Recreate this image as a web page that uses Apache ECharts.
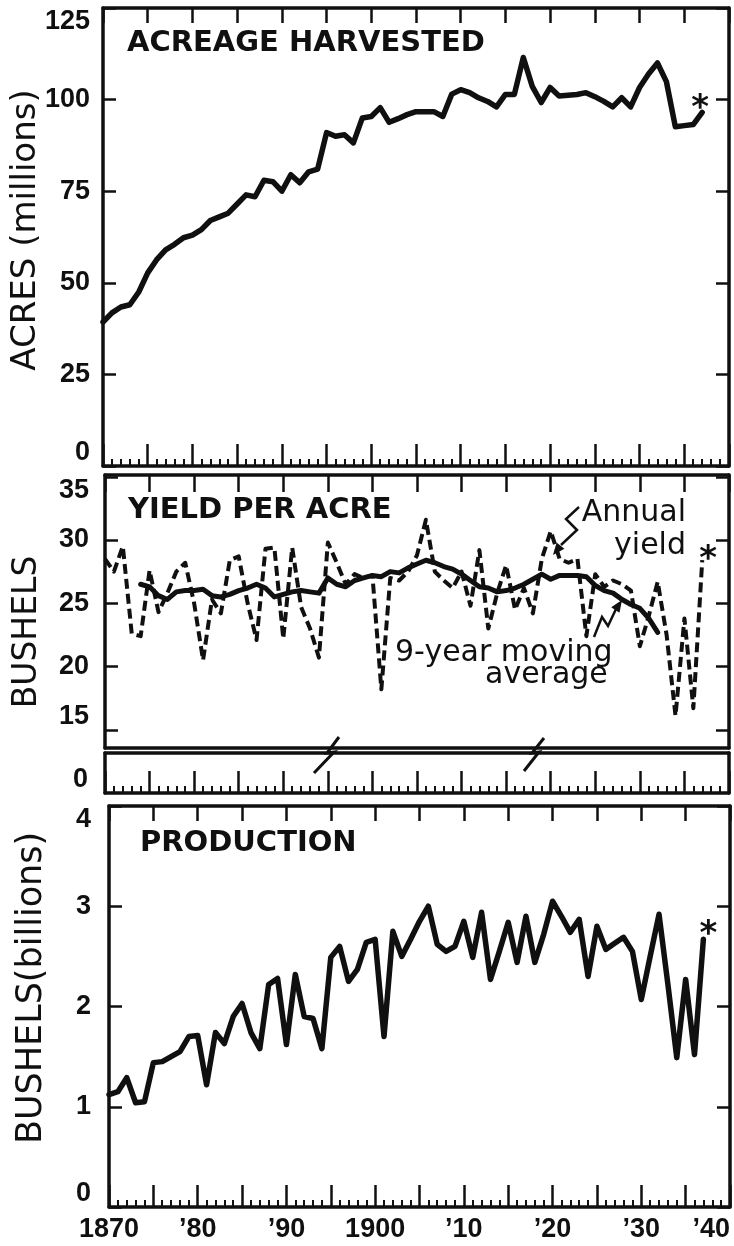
<!DOCTYPE html>
<html><head><meta charset="utf-8">
<script src="https://cdn.jsdelivr.net/npm/echarts@6/dist/echarts.min.js"></script>
<style>html,body{margin:0;padding:0;background:#fff}#c{width:734px;height:1246px}</style>
</head><body><div id="c"></div>
<script>
// ---------------- data ----------------
const years = [1870,1871,1872,1873,1874,1875,1876,1877,1878,1879,
  1880,1881,1882,1883,1884,1885,1886,1887,1888,1889,
  1890,1891,1892,1893,1894,1895,1896,1897,1898,1899,
  1900,1901,1902,1903,1904,1905,1906,1907,1908,1909,
  1910,1911,1912,1913,1914,1915,1916,1917,1918,1919,
  1920,1921,1922,1923,1924,1925,1926,1927,1928,1929,
  1930,1931,1932,1933,1934,1935,1936,1937];
// acreage harvested, millions of acres
const acreage = [39.3,41.8,43.4,44.0,47.5,52.7,56.3,59.0,60.5,62.3,
  63.0,64.5,67.0,68.0,69.0,71.5,74.0,73.5,78.0,77.6,
  75.0,79.5,77.3,80.3,81.0,91.0,90.0,90.4,88.2,95.0,
  95.4,97.8,93.8,94.8,95.9,96.7,96.7,96.7,95.4,101.5,
  102.7,101.9,100.5,99.5,98.0,101.4,101.4,111.5,103.6,99.2,
  103.3,101.0,101.2,101.4,101.9,100.8,99.5,98.0,100.5,98.0,
  103.3,107.0,110.0,104.9,92.6,92.9,93.2,96.5];
// annual yield, bushels per acre
const yieldAnnual = [28.5,27.5,29.5,22.6,22.4,27.6,24.3,25.8,27.5,28.2,
  25.0,20.5,25.3,24.2,28.4,28.7,25.0,22.1,29.3,29.4,
  22.2,29.4,24.7,23.0,20.7,29.8,28.2,26.5,27.3,27.0,
  27.2,18.2,27.0,26.8,27.5,28.8,31.6,27.5,26.8,26.2,
  27.5,24.8,29.2,23.0,25.8,28.0,24.5,26.2,24.2,28.5,
  30.7,28.5,28.2,28.5,22.4,27.3,26.3,26.8,26.5,26.0,
  21.6,24.0,26.7,22.5,16.1,23.8,16.7,28.4];
// 9-year moving average (centered)
const maYears = [1874,1875,1876,1877,1878,1879,
  1880,1881,1882,1883,1884,1885,1886,1887,1888,1889,
  1890,1891,1892,1893,1894,1895,1896,1897,1898,1899,
  1900,1901,1902,1903,1904,1905,1906,1907,1908,1909,
  1910,1911,1912,1913,1914,1915,1916,1917,1918,1919,
  1920,1921,1922,1923,1924,1925,1926,1927,1928,1929,
  1930,1931,1932];
const yieldMA = [26.5,26.3,25.6,25.3,25.9,26.0,
  26.0,26.1,25.6,25.5,25.7,26.0,26.2,26.5,26.2,25.5,
  25.7,25.9,26.0,25.9,25.8,27.0,26.5,26.3,26.8,27.0,
  27.2,27.1,27.5,27.4,27.8,28.1,28.4,28.2,27.9,27.7,
  27.3,26.8,26.3,26.2,25.9,26.0,26.2,26.5,26.9,27.3,
  26.9,27.2,27.2,27.2,27.1,26.4,26.0,25.8,25.3,24.9,
  24.6,23.8,22.7];
// production, billions of bushels
const production = [1.12,1.15,1.29,1.04,1.05,1.44,1.45,1.50,1.55,1.70,
  1.71,1.22,1.74,1.63,1.90,2.03,1.74,1.58,2.22,2.28,
  1.62,2.32,1.90,1.88,1.58,2.49,2.60,2.25,2.37,2.64,
  2.67,1.70,2.75,2.50,2.67,2.85,3.00,2.62,2.55,2.60,
  2.85,2.49,2.94,2.27,2.55,2.84,2.44,2.90,2.44,2.72,
  3.05,2.90,2.74,2.87,2.30,2.80,2.57,2.63,2.69,2.55,
  2.07,2.50,2.92,2.22,1.49,2.27,1.52,2.67];
const decadeYears = [1870,1880,1890,1900,1910,1920,1930,1940];
const decadeLabels = ['1870','\u201980','\u201990','1900','\u201910','\u201920','\u201930','\u201940'];
const acreTicks = [0,25,50,75,100,125];
const yieldTicks = [15,20,25,30,35];
const prodTicks = [0,1,2,3,4];

// ---------------- chart ----------------
const BLACK = '#101010';
const chart = echarts.init(document.getElementById('c'), null, {renderer:'canvas', width:734, height:1246});
const tickFont = {fontFamily:'"Liberation Sans", Arial, sans-serif', fontWeight:'bold', fontSize:27, color:BLACK};
const LETTER = '"DejaVu Sans", sans-serif';

function xAx(grid, pos, o) {
  return Object.assign({
    gridIndex:grid, type:'value', position:pos, min:1870, max:1940, interval:5,
    axisLine:{show:true, onZero:false, lineStyle:{color:BLACK, width:3.5}},
    axisTick:{show:false}, minorTick:{show:false},
    axisLabel:{show:false}, splitLine:{show:false}, minorSplitLine:{show:false}
  }, o || {});
}
function yAx(grid, pos, o) {
  return Object.assign({
    gridIndex:grid, type:'value', position:pos,
    axisLine:{show:true, onZero:false, lineStyle:{color:BLACK, width:3.5}},
    axisTick:{show:false}, minorTick:{show:false},
    axisLabel:{show:false}, splitLine:{show:false}
  }, o || {});
}
const majBottom = {show:true, inside:true, length:22, lineStyle:{color:BLACK, width:2.5}};
const minBottom = {show:true, splitNumber:5, length:7, lineStyle:{color:BLACK, width:2}};
const majTop = {show:true, inside:true, length:15, lineStyle:{color:BLACK, width:2.5}};
const yTick = {show:true, inside:true, length:13, lineStyle:{color:BLACK, width:2.5}};
function yLabel(margin) {
  return Object.assign({show:true, margin:margin, showMinLabel:true, showMaxLabel:true,
    verticalAlignMinLabel:'bottom', verticalAlignMaxLabel:'top'}, tickFont);
}

function arrowHead(from, tip, len, half) {
  const dx = tip[0]-from[0], dy = tip[1]-from[1];
  const d = Math.hypot(dx, dy), ux = dx/d, uy = dy/d;
  const bx = tip[0]-ux*len, by = tip[1]-uy*len;
  return [tip, [bx-uy*half, by+ux*half], [bx+uy*half, by-ux*half]];
}
const annArrow = [[579,507],[566,519],[577,530],[561,545]];
const maArrow = [[594,637],[602,617],[608,626],[616,609]];

const last = years.length - 1;
const starPoint = {symbolSize:0.5, itemStyle:{color:BLACK, opacity:1}, silent:true};
const starLabel = (dx, dy) => ({show:true, formatter:'*', position:'inside', offset:[dx,dy],
  fontFamily:LETTER, fontWeight:'bold', fontSize:34, color:BLACK, opacity:1, textBorderWidth:0});

const option = {
  animation:false,
  backgroundColor:'#ffffff',
  grid:[
    {left:103, right:5, top:8, height:458, outerBoundsMode:'none'},
    {left:105, right:5, top:475, height:273, outerBoundsMode:'none'},
    {left:105, right:5, top:476.75, height:253, outerBoundsMode:'none'},
    {left:105, right:5, top:753, height:40, outerBoundsMode:'none'},
    {left:109, right:4, top:806, height:401, outerBoundsMode:'none'}
  ],
  xAxis:[
    xAx(0,'bottom',{axisTick:majBottom, minorTick:minBottom}),
    xAx(0,'top',{axisTick:majTop}),
    xAx(1,'bottom'),
    xAx(1,'top',{axisTick:Object.assign({}, majTop, {length:17})}),
    xAx(2,'bottom',{show:false}),
    xAx(3,'bottom',{axisTick:majBottom, minorTick:minBottom}),
    xAx(3,'top'),
    xAx(4,'bottom',{axisTick:majBottom, minorTick:minBottom,
      axisLabel:Object.assign({show:true, margin:9, showMinLabel:true, showMaxLabel:true, alignMaxLabel:'right',
        formatter:function(v){const i=decadeYears.indexOf(v); return i>=0?decadeLabels[i]:'';}}, tickFont)}),
    xAx(4,'top',{axisTick:majTop})
  ],
  yAxis:[
    yAx(0,'left',{min:acreTicks[0], max:acreTicks[acreTicks.length-1], interval:25, axisTick:yTick, axisLabel:yLabel(13)}),
    yAx(0,'right',{min:acreTicks[0], max:acreTicks[acreTicks.length-1], interval:25, axisTick:yTick}),
    yAx(1,'left',{min:0, max:1}),
    yAx(1,'right',{min:0, max:1}),
    yAx(2,'left',{min:yieldTicks[0], max:yieldTicks[yieldTicks.length-1], interval:5, axisLine:{show:false}, axisTick:yTick, axisLabel:yLabel(16)}),
    yAx(2,'right',{min:yieldTicks[0], max:yieldTicks[yieldTicks.length-1], interval:5, axisLine:{show:false}, axisTick:yTick}),
    yAx(3,'left',{min:0, max:1, interval:1, axisLabel:Object.assign({show:true, margin:17, verticalAlign:'bottom',
      formatter:function(v){return v===0?'0':'';}}, tickFont)}),
    yAx(3,'right',{min:0, max:1}),
    yAx(4,'left',{min:prodTicks[0], max:prodTicks[prodTicks.length-1], interval:1, axisTick:yTick, axisLabel:yLabel(18)}),
    yAx(4,'right',{min:prodTicks[0], max:prodTicks[prodTicks.length-1], interval:1, axisTick:yTick})
  ],
  series:[
    {type:'line', xAxisIndex:0, yAxisIndex:0, data:years.map((y,i)=>[y,acreage[i]]),
      symbol:'none', silent:true, lineStyle:{color:BLACK, width:5.5, join:'round', cap:'round'}},
    Object.assign({type:'scatter', xAxisIndex:0, yAxisIndex:0, data:[[years[last], acreage[last]]],
      label:starLabel(-2,-3)}, starPoint),
    {type:'line', xAxisIndex:4, yAxisIndex:4, data:years.map((y,i)=>[y,yieldAnnual[i]]),
      symbol:'none', silent:true, lineStyle:{color:BLACK, width:4, type:[10,5], join:'round'}},
    {type:'line', xAxisIndex:4, yAxisIndex:4, data:maYears.map((y,i)=>[y,yieldMA[i]]),
      symbol:'none', silent:true, lineStyle:{color:BLACK, width:5, join:'round', cap:'round'}},
    Object.assign({type:'scatter', xAxisIndex:4, yAxisIndex:4, data:[[years[last], yieldAnnual[last]]],
      label:starLabel(6,0)}, starPoint),
    {type:'line', xAxisIndex:7, yAxisIndex:8, data:years.map((y,i)=>[y,production[i]]),
      symbol:'none', silent:true, lineStyle:{color:BLACK, width:5.5, join:'round', cap:'round'}},
    Object.assign({type:'scatter', xAxisIndex:7, yAxisIndex:8, data:[[years[last], production[last]]],
      label:starLabel(5,-4)}, starPoint)
  ],
  graphic:[
    {type:'text', x:127, y:43, style:{text:'ACREAGE HARVESTED', fill:BLACK, fontFamily:LETTER, fontWeight:'bold', fontSize:29, align:'left', verticalAlign:'middle'}},
    {type:'text', x:128, y:510, style:{text:'YIELD PER ACRE', fill:BLACK, fontFamily:LETTER, fontWeight:'bold', fontSize:29, align:'left', verticalAlign:'middle'}},
    {type:'text', x:140, y:843, style:{text:'PRODUCTION', fill:BLACK, fontFamily:LETTER, fontWeight:'bold', fontSize:29, align:'left', verticalAlign:'middle'}},
    {type:'text', x:26, y:230, rotation:Math.PI/2, style:{text:'ACRES (millions)', fill:BLACK, fontFamily:LETTER, fontSize:34, align:'center', verticalAlign:'middle'}},
    {type:'text', x:27, y:632, rotation:Math.PI/2, style:{text:'BUSHELS', fill:BLACK, fontFamily:LETTER, fontSize:33, align:'center', verticalAlign:'middle'}},
    {type:'text', x:32, y:988, rotation:Math.PI/2, style:{text:'BUSHELS(billions)', fill:BLACK, fontFamily:LETTER, fontSize:35, align:'center', verticalAlign:'middle'}},
    {type:'text', x:686, y:513, style:{text:'Annual', fill:BLACK, fontFamily:LETTER, fontSize:30, align:'right', verticalAlign:'middle'}},
    {type:'text', x:686, y:546, style:{text:'yield', fill:BLACK, fontFamily:LETTER, fontSize:30, align:'right', verticalAlign:'middle'}},
    {type:'text', x:395, y:653, style:{text:'9-year moving', fill:BLACK, fontFamily:LETTER, fontSize:30, align:'left', verticalAlign:'middle'}},
    {type:'text', x:485, y:675, style:{text:'average', fill:BLACK, fontFamily:LETTER, fontSize:30, align:'left', verticalAlign:'middle'}},
    {type:'polyline', shape:{points:annArrow}, style:{stroke:BLACK, lineWidth:2.5, fill:null}},
    {type:'polygon', shape:{points:arrowHead(annArrow[3],[553,555],12,5)}, style:{fill:BLACK}},
    {type:'polyline', shape:{points:maArrow}, style:{stroke:BLACK, lineWidth:2.5, fill:null}},
    {type:'polygon', shape:{points:arrowHead(maArrow[3],[622,600],12,5)}, style:{fill:BLACK}},
    {type:'polyline', shape:{points:[[339,737],[327,753],[334,752],[314,773]]}, style:{stroke:BLACK, lineWidth:3, fill:null}},
    {type:'polyline', shape:{points:[[544,738],[532,753],[539,752],[524,771]]}, style:{stroke:BLACK, lineWidth:3, fill:null}}
  ]
};
chart.setOption(option);
</script>
</body></html>
